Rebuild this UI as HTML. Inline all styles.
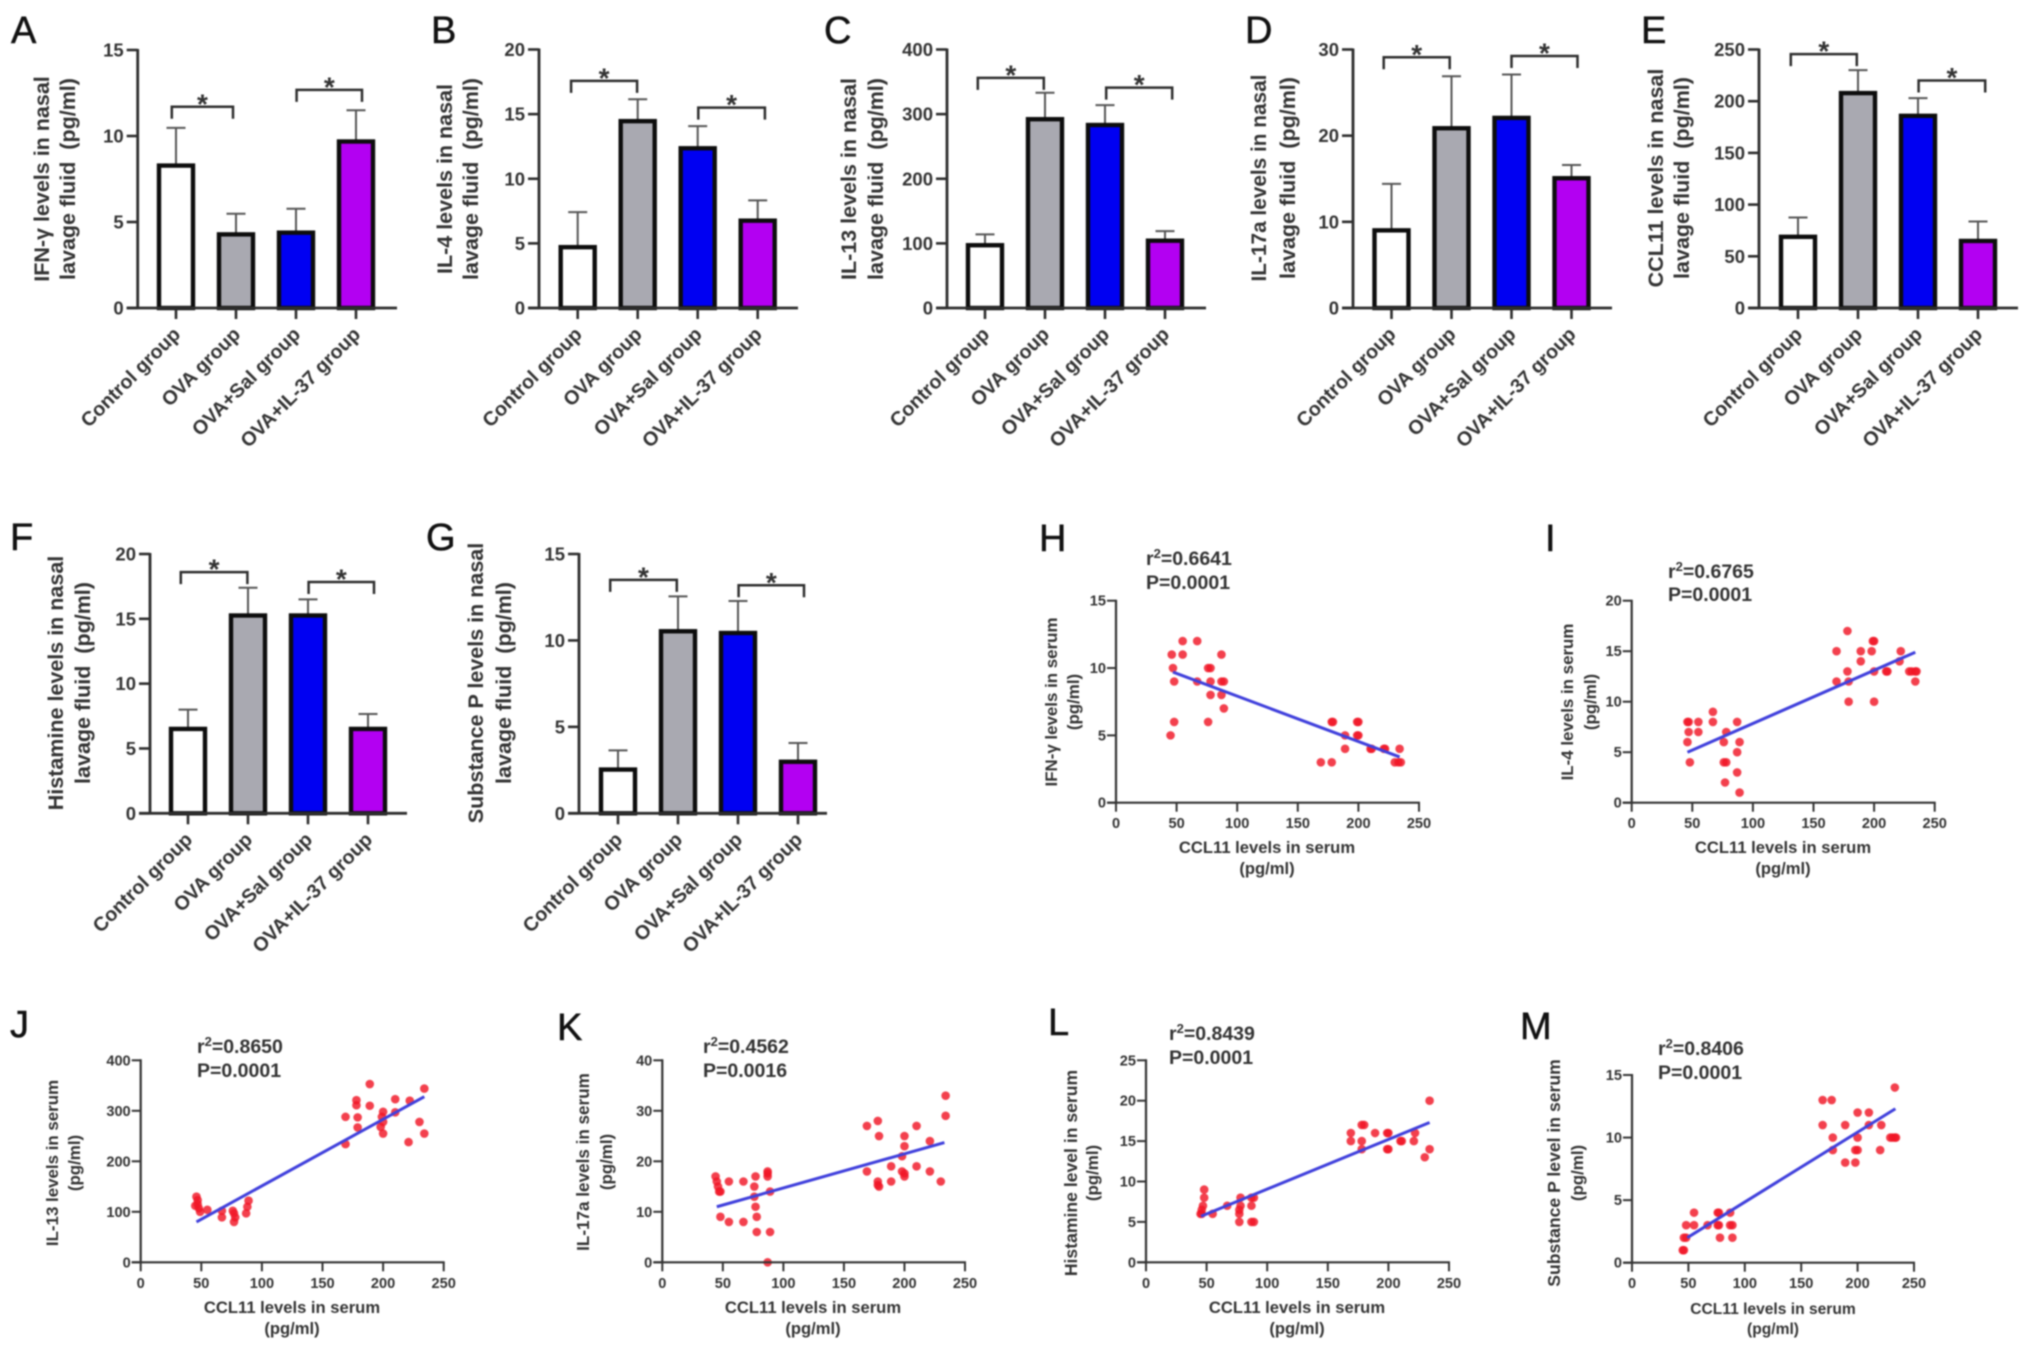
<!DOCTYPE html>
<html lang="en">
<head>
<meta charset="utf-8">
<title>Cytokine levels by group and correlations with CCL11</title>
<style>
html,body{margin:0;padding:0;background:#fff;width:2031px;height:1350px;overflow:hidden}
svg{display:block;position:absolute;left:0;top:0;filter:blur(0.8px)}
text{font-family:"Liberation Sans",Arial,sans-serif;fill:#333;font-weight:bold;white-space:pre}
.letter{font-size:38px;font-weight:normal;fill:#111;stroke:#111;stroke-width:0.5px}
.ytitle{font-size:21.5px;text-anchor:middle}
.stitle{font-size:16.9px;text-anchor:middle}
.xtitle{font-size:16.6px;text-anchor:middle}
.stat{font-size:19.5px}
.sup{font-size:13px}
</style>
</head>
<body>
<svg id="figure" width="2031" height="1350" viewBox="0 0 2031 1350" xmlns="http://www.w3.org/2000/svg">
  <rect width="2031" height="1350" fill="#fff"/>

  <text class="letter" x="11" y="43">A</text>
  <text class="letter" x="431" y="43">B</text>
  <text class="letter" x="824" y="43">C</text>
  <text class="letter" x="1245" y="43">D</text>
  <text class="letter" x="1641" y="43">E</text>
  <text class="letter" x="10" y="550">F</text>
  <text class="letter" x="426" y="550">G</text>
  <text class="letter" x="1039" y="551">H</text>
  <text class="letter" x="1545" y="551">I</text>
  <text class="letter" x="10" y="1037">J</text>
  <text class="letter" x="557" y="1040">K</text>
  <text class="letter" x="1048" y="1035">L</text>
  <text class="letter" x="1520" y="1039">M</text>

  <text class="ytitle" transform="translate(49,179) rotate(-90)">IFN-γ levels in nasal</text>
  <text class="ytitle" transform="translate(75,179) rotate(-90)">lavage fluid  (pg/ml)</text>
  <text class="ytitle" transform="translate(452,179) rotate(-90)">IL-4 levels in nasal</text>
  <text class="ytitle" transform="translate(478,179) rotate(-90)">lavage fluid  (pg/ml)</text>
  <text class="ytitle" transform="translate(856,179) rotate(-90)">IL-13 levels in nasal</text>
  <text class="ytitle" transform="translate(883,179) rotate(-90)">lavage fluid  (pg/ml)</text>
  <text class="ytitle" transform="translate(1266,178) rotate(-90)" style="font-size:20.8px">IL-17a levels in nasal</text>
  <text class="ytitle" transform="translate(1295,178) rotate(-90)">lavage fluid  (pg/ml)</text>
  <text class="ytitle" transform="translate(1663,178) rotate(-90)">CCL11 levels in nasal</text>
  <text class="ytitle" transform="translate(1689,178) rotate(-90)">lavage fluid  (pg/ml)</text>
  <text class="ytitle" transform="translate(63,683) rotate(-90)">Histamine levels in nasal</text>
  <text class="ytitle" transform="translate(90,683) rotate(-90)">lavage fluid  (pg/ml)</text>
  <text class="ytitle" transform="translate(483,683) rotate(-90)">Substance P levels in nasal</text>
  <text class="ytitle" transform="translate(511,683) rotate(-90)">lavage fluid  (pg/ml)</text>

  <text class="stitle" transform="translate(1057,702) rotate(-90)">IFN-γ levels in serum</text>
  <text class="stitle" transform="translate(1079,702) rotate(-90)">(pg/ml)</text>
  <text class="stitle" transform="translate(1573,702) rotate(-90)">IL-4 levels in serum</text>
  <text class="stitle" transform="translate(1596,702) rotate(-90)">(pg/ml)</text>
  <text class="stitle" transform="translate(58,1163) rotate(-90)">IL-13 levels in serum</text>
  <text class="stitle" transform="translate(80,1163) rotate(-90)">(pg/ml)</text>
  <text class="stitle" transform="translate(589,1162) rotate(-90)" style="font-size:17.1px">IL-17a levels in serum</text>
  <text class="stitle" transform="translate(612,1162) rotate(-90)">(pg/ml)</text>
  <text class="stitle" transform="translate(1077,1173) rotate(-90)" style="font-size:17.6px">Histamine level in serum</text>
  <text class="stitle" transform="translate(1098,1173) rotate(-90)">(pg/ml)</text>
  <text class="stitle" transform="translate(1560,1173) rotate(-90)" style="font-size:17.6px">Substance P level in serum</text>
  <text class="stitle" transform="translate(1583,1173) rotate(-90)">(pg/ml)</text>

  <text class="xtitle" x="1267" y="853">CCL11 levels in serum</text>
  <text class="xtitle" x="1267" y="874">(pg/ml)</text>
  <text class="xtitle" x="1783" y="853">CCL11 levels in serum</text>
  <text class="xtitle" x="1783" y="874">(pg/ml)</text>
  <text class="xtitle" x="292" y="1313">CCL11 levels in serum</text>
  <text class="xtitle" x="292" y="1334">(pg/ml)</text>
  <text class="xtitle" x="813" y="1313">CCL11 levels in serum</text>
  <text class="xtitle" x="813" y="1334">(pg/ml)</text>
  <text class="xtitle" x="1297" y="1313">CCL11 levels in serum</text>
  <text class="xtitle" x="1297" y="1334">(pg/ml)</text>
  <text class="xtitle" x="1773" y="1314" style="font-size:15.6px">CCL11 levels in serum</text>
  <text class="xtitle" x="1773" y="1334" style="font-size:15.6px">(pg/ml)</text>

  <text class="stat" x="1146" y="565">r<tspan class="sup" dy="-7">2</tspan><tspan dy="7">=0.6641</tspan></text>
  <text class="stat" x="1146" y="589">P=0.0001</text>
  <text class="stat" x="1668" y="578">r<tspan class="sup" dy="-7">2</tspan><tspan dy="7">=0.6765</tspan></text>
  <text class="stat" x="1668" y="601">P=0.0001</text>
  <text class="stat" x="197" y="1053">r<tspan class="sup" dy="-7">2</tspan><tspan dy="7">=0.8650</tspan></text>
  <text class="stat" x="197" y="1077">P=0.0001</text>
  <text class="stat" x="703" y="1053">r<tspan class="sup" dy="-7">2</tspan><tspan dy="7">=0.4562</tspan></text>
  <text class="stat" x="703" y="1077">P=0.0016</text>
  <text class="stat" x="1169" y="1040">r<tspan class="sup" dy="-7">2</tspan><tspan dy="7">=0.8439</tspan></text>
  <text class="stat" x="1169" y="1064">P=0.0001</text>
  <text class="stat" x="1658" y="1055">r<tspan class="sup" dy="-7">2</tspan><tspan dy="7">=0.8406</tspan></text>
  <text class="stat" x="1658" y="1079">P=0.0001</text>

  <g id="panel-a"></g>
  <g id="panel-b"></g>
  <g id="panel-c"></g>
  <g id="panel-d"></g>
  <g id="panel-e"></g>
  <g id="panel-f"></g>
  <g id="panel-g"></g>
  <g id="panel-h"></g>
  <g id="panel-i"></g>
  <g id="panel-j"></g>
  <g id="panel-k"></g>
  <g id="panel-l"></g>
  <g id="panel-m"></g>
</svg>

<script>
/* ---------- bar chart data ---------- */
const categories = ["Control group", "OVA group", "OVA+Sal group", "OVA+IL-37 group"];

const ticksA = [0, 5, 10, 15];
const meansA = [8.35, 4.35, 4.45, 9.75];
const errorTopsA = [10.47, 5.48, 5.77, 11.5];
const bracketHeightsA = [11.7, 12.68];

const ticksB = [0, 5, 10, 15, 20];
const meansB = [4.8, 14.55, 12.45, 6.85];
const errorTopsB = [7.42, 16.15, 14.07, 8.33];
const bracketHeightsB = [17.57, 15.5];

const ticksC = [0, 100, 200, 300, 400];
const meansC = [99, 294, 285, 106];
const errorTopsC = [114, 333, 314, 119];
const bracketHeightsC = [356, 341];

const ticksD = [0, 10, 20, 30];
const meansD = [9.15, 21, 22.2, 15.2];
const errorTopsD = [14.4, 26.9, 27.1, 16.6];
const bracketHeightsD = [29.1, 29.25];

const ticksE = [0, 50, 100, 150, 200, 250];
const meansE = [70, 209, 187, 66];
const errorTopsE = [87.5, 230, 203, 83.7];
const bracketHeightsE = [245.5, 220];

const ticksF = [0, 5, 10, 15, 20];
const meansF = [6.6, 15.35, 15.35, 6.6];
const errorTopsF = [8.0, 17.4, 16.5, 7.66];
const bracketHeightsF = [18.6, 17.84];

const ticksG = [0, 5, 10, 15];
const meansG = [2.6, 10.6, 10.5, 3.05];
const errorTopsG = [3.64, 12.55, 12.28, 4.07];
const bracketHeightsG = [13.5, 13.19];

/* ---------- scatter chart data ---------- */
const scatterXTicks = [0, 50, 100, 150, 200, 250];

const ticksH = [0, 5, 10, 15];
const xH = [45,48,46,47,48,55,55,67,67,76,78,76,78,78,87,87,89,87,89,169,178,178,179,189,189,199,200,199,200,210,211,221,222,230,233,235,234];
const yH = [5,6,11,10,9,12,11,12,9,10,10,6,9,8,11,9,9,8,7,3,3,6,6,5,4,5,5,6,6,4,4,4,4,3,3,3,4];
const fitXH = [47, 234];
const fitYH = [9.7, 3.4];

const ticksI = [0, 5, 10, 15, 20];
const xI = [46,47,55,47,55,46,48,67,67,78,76,76,78,77,87,89,87,87,89,169,169,178,178,179,179,189,189,198,199,200,200,200,210,211,222,221,229,231,234,235,234];
const yI = [8,8,8,7,7,6,4,9,8,7,6,4,4,2,8,6,5,3,1,15,12,17,13,12,10,15,14,15,16,16,13,10,13,13,15,14,13,13,13,13,12];
const fitXI = [46, 234];
const fitYI = [5, 14.9];

const ticksJ = [0, 100, 200, 300, 400];
const xJ = [46,47,45,47,48,49,55,67,67,76,77,78,77,87,88,89,169,169,179,179,178,178,189,189,200,199,200,198,200,210,210,222,221,230,234,234];
const yJ = [130,123,112,115,107,100,104,102,89,102,97,89,80,97,110,122,288,234,287,267,321,311,353,310,298,288,278,268,255,323,297,320,238,278,344,255];
const fitXJ = [46, 234];
const fitYJ = [80, 328];

const ticksK = [0, 10, 20, 30, 40];
const xK = [44,45,46,47,48,48,55,55,67,67,76,76,77,77,78,78,87,87,87,89,89,87,169,169,178,179,178,178,179,189,189,198,200,200,198,200,200,210,210,221,221,230,234,234];
const yK = [17,16,15,14,14,9,16,8,16,8,15,13,17,11,9,6,18,17,17.6,14,6,0,27,18,28,25,16,15.3,15,19,16,21,25,23,18,17.6,17,27,19,24,18,16,33,29];
const fitXK = [45, 233];
const fitYK = [11, 23.7];

const ticksL = [0, 5, 10, 15, 20, 25];
const xL = [45,46,48,48,47,46,55,67,77,77,78,78,77,87,89,87,87,89,169,169,178,180,178,178,189,199,200,199,200,210,211,222,221,230,234,234];
const yL = [6,6,9,8,7,6.5,6,7,5,6,8,7,6.5,5,5,7,8,8,16,15,17,17,15,14,16,16,16,14,14,15,15,16,15,13,20,14];
const fitXL = [45.4, 234];
const fitYL = [5.7, 17.3];

const ticksM = [0, 5, 10, 15];
const xM = [45,46,46,48,48,55,55,67,76,77,76,77,78,87,87,89,89,169,169,177,178,178,189,189,198,200,200,198,200,210,210,221,220,229,231,233,234,233];
const yM = [1,1,2,2,3,4,3,3,3,3,4,4,2,4,3,3,2,13,11,13,10,9,11,8,8,12,10,9,9,12,11,11,9,10,10,10,10,14];
const fitXM = [49, 233.5];
const fitYM = [2, 12.3];

/* ---------- rendering ---------- */
const SVG_NS = "http://www.w3.org/2000/svg";
const barFills = ["#ffffff", "#a9a9b1", "#0000f2", "#b300f2"];
const barStep = 60;

function make(parent, tag, attrs, content) {
  const el = document.createElementNS(SVG_NS, tag);
  for (const key in attrs) el.setAttribute(key, attrs[key]);
  if (content !== undefined) el.textContent = content;
  parent.appendChild(el);
  return el;
}

function drawBarChart(panelId, frame, ticks, means, errorTops, bracketHeights, bracketSpans) {
  const g = document.getElementById(panelId);
  const yMax = ticks[ticks.length - 1];
  const yScale = v => frame.baseY - (v * (frame.baseY - frame.topY)) / yMax;
  const xScale = i => frame.firstX + i * barStep;
  const axisColor = "#2e2e2e";

  ticks.forEach(t => {
    const tick = make(g, "line", {x1: frame.axisX - 11, x2: frame.axisX, y1: yScale(t), y2: yScale(t), stroke: axisColor, "stroke-width": 2.6});
    
    
    const label = make(g, "text", {x: frame.axisX - 14, y: yScale(t) + 6.5, "text-anchor": "end", "font-size": 18.5}, String(t));
    
    
  });

  means.forEach((m, i) => {
    const cx = xScale(i);
    const errLine = make(g, "line", {x1: cx, x2: cx, y1: yScale(m), y2: yScale(errorTops[i]), stroke: "#555", "stroke-width": 2});
    
    
    const errCap = make(g, "line", {x1: cx - 9.5, x2: cx + 9.5, y1: yScale(errorTops[i]), y2: yScale(errorTops[i]), stroke: "#555", "stroke-width": 2});
    
    
    const barTop = yScale(m) + 1.2;
    const bar = make(g, "rect", {x: cx - 17, y: barTop, width: 34, height: frame.baseY - barTop, fill: barFills[i], stroke: "#0d0d0d", "stroke-width": 4.4});
    
    
    const xTick = make(g, "line", {x1: cx, x2: cx, y1: frame.baseY, y2: frame.baseY + 11, stroke: axisColor, "stroke-width": 2.6});
    
    
    const lx = cx + 5.5;
    const ly = frame.baseY + 27.5;
    const catLabel = make(g, "text", {x: lx, y: ly, "text-anchor": "end", "font-size": 19.7, transform: "rotate(-45 " + lx + " " + ly + ")"}, categories[i]);
    
    
  });

  const yAxis = make(g, "line", {x1: frame.axisX, x2: frame.axisX, y1: frame.topY - 1, y2: frame.baseY + 1, stroke: axisColor, "stroke-width": 2.8});
  
  
  const xAxis = make(g, "line", {x1: frame.axisX - 11, x2: frame.endX, y1: frame.baseY, y2: frame.baseY, stroke: axisColor, "stroke-width": 2.8});
  
  

  bracketHeights.forEach((h, i) => {
    const x0 = xScale(bracketSpans[i][0]);
    const x1 = xScale(bracketSpans[i][1]);
    const by = yScale(h);
    const bracket = make(g, "path", {d: "M" + x0 + " " + (by + 12) + "V" + by + "H" + x1 + "V" + (by + 12), fill: "none", stroke: "#2e2e2e", "stroke-width": 2.5});
    
    
    const star = make(g, "text", {x: (x0 + x1) / 2, y: by - 9.5 + 16, "text-anchor": "middle", "font-size": 28}, "*");
    
    
  });
}

function drawScatter(panelId, frame, yTicks, xs, ys, fitX, fitY) {
  const g = document.getElementById(panelId);
  const xMax = scatterXTicks[scatterXTicks.length - 1];
  const yMax = yTicks[yTicks.length - 1];
  const xScale = v => frame.axisX + (v * (frame.endX - frame.axisX)) / xMax;
  const yScale = v => frame.baseY - (v * (frame.baseY - frame.topY)) / yMax;
  const axisColor = "#333";

  xs.forEach((x, i) => {
    const dot = make(g, "circle", {cx: xScale(x), cy: yScale(ys[i]), r: 4.3, fill: "#f01626", "fill-opacity": 0.82});
    
    
  });

  const fit = make(g, "line", {x1: xScale(fitX[0]), y1: yScale(fitY[0]), x2: xScale(fitX[1]), y2: yScale(fitY[1]), stroke: "#4040dc", "stroke-width": 3});
  
  

  yTicks.forEach(t => {
    const tick = make(g, "line", {x1: frame.axisX - 9, x2: frame.axisX, y1: yScale(t), y2: yScale(t), stroke: axisColor, "stroke-width": 2});
    
    
    const label = make(g, "text", {x: frame.axisX - 10, y: yScale(t) + 5, "text-anchor": "end", "font-size": 14.6}, String(t));
    
    
  });

  scatterXTicks.forEach(t => {
    const tick = make(g, "line", {x1: xScale(t), x2: xScale(t), y1: frame.baseY, y2: frame.baseY + 9, stroke: axisColor, "stroke-width": 2});
    
    
    const label = make(g, "text", {x: xScale(t), y: frame.baseY + 25.5, "text-anchor": "middle", "font-size": 14.6}, String(t));
    
    
  });

  const yAxis = make(g, "line", {x1: frame.axisX, x2: frame.axisX, y1: frame.topY - 1, y2: frame.baseY + 1, stroke: axisColor, "stroke-width": 2.2});
  
  
  const xAxis = make(g, "line", {x1: frame.axisX - 9, x2: frame.endX + 1, y1: frame.baseY, y2: frame.baseY, stroke: axisColor, "stroke-width": 2.2});
  
  
}

drawBarChart("panel-a", {axisX: 137.7, topY: 50, baseY: 308, firstX: 176, endX: 397}, ticksA, meansA, errorTopsA, bracketHeightsA, [[-0.07, 0.95], [2.01, 3.1]]);
drawBarChart("panel-b", {axisX: 539, topY: 49.5, baseY: 308, firstX: 577.7, endX: 798}, ticksB, meansB, errorTopsB, bracketHeightsB, [[-0.11, 0.99], [2.01, 3.12]]);
drawBarChart("panel-c", {axisX: 947, topY: 49.5, baseY: 308, firstX: 985, endX: 1206}, ticksC, meansC, errorTopsC, bracketHeightsC, [[-0.12, 0.98], [2.02, 3.12]]);
drawBarChart("panel-d", {axisX: 1353, topY: 49.5, baseY: 308, firstX: 1391.5, endX: 1612}, ticksD, meansD, errorTopsD, bracketHeightsD, [[-0.13, 0.97], [2, 3.1]]);
drawBarChart("panel-e", {axisX: 1759, topY: 49.5, baseY: 308, firstX: 1798, endX: 2018}, ticksE, meansE, errorTopsE, bracketHeightsE, [[-0.12, 0.98], [2.01, 3.12]]);
drawBarChart("panel-f", {axisX: 150, topY: 554, baseY: 813.3, firstX: 188, endX: 407}, ticksF, meansF, errorTopsF, bracketHeightsF, [[-0.12, 0.99], [2.01, 3.1]]);
drawBarChart("panel-g", {axisX: 579, topY: 554, baseY: 813.3, firstX: 618, endX: 827}, ticksG, meansG, errorTopsG, bracketHeightsG, [[-0.13, 0.98], [2.01, 3.1]]);

drawScatter("panel-h", {axisX: 1116, endX: 1419, topY: 600.7, baseY: 802.7}, ticksH, xH, yH, fitXH, fitYH);
drawScatter("panel-i", {axisX: 1631.7, endX: 1934.7, topY: 600.7, baseY: 802.7}, ticksI, xI, yI, fitXI, fitYI);
drawScatter("panel-j", {axisX: 140.7, endX: 443.7, topY: 1060.3, baseY: 1262.3}, ticksJ, xJ, yJ, fitXJ, fitYJ);
drawScatter("panel-k", {axisX: 662.3, endX: 965, topY: 1060.3, baseY: 1262.3}, ticksK, xK, yK, fitXK, fitYK);
drawScatter("panel-l", {axisX: 1146, endX: 1449, topY: 1060.3, baseY: 1262.3}, ticksL, xL, yL, fitXL, fitYL);
drawScatter("panel-m", {axisX: 1632, endX: 1914, topY: 1075, baseY: 1262.7}, ticksM, xM, yM, fitXM, fitYM);
</script>
</body>
</html>
